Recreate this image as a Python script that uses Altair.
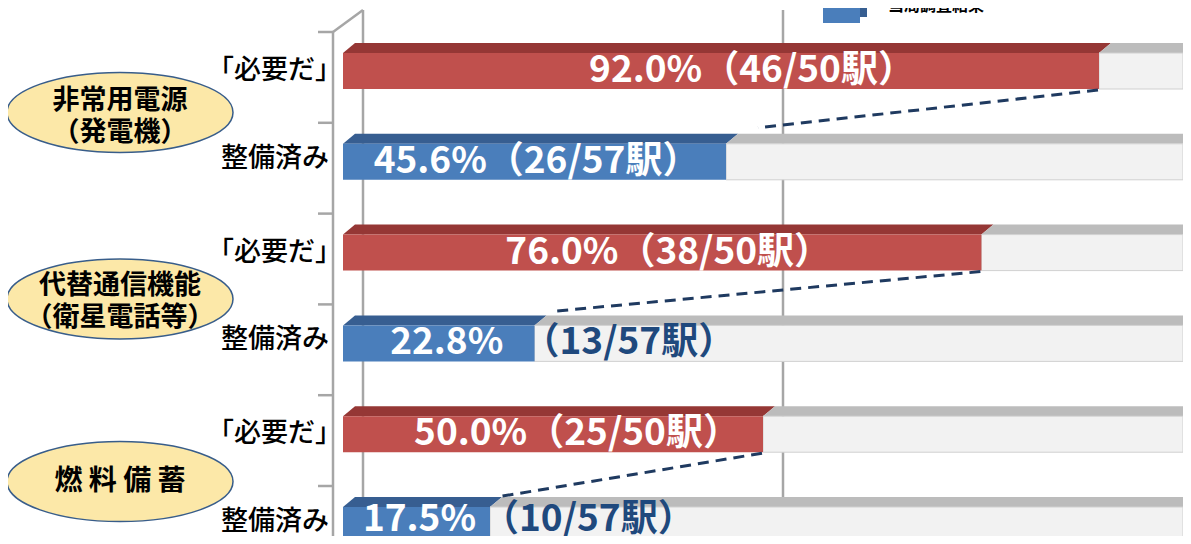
import altair as alt
import pandas as pd

# ---------------- data ----------------
group_names = ["非常用電源\n（発電機）", "代替通信機能\n（衛星電話等）", "燃 料 備 蓄"]
row_labels = ["「必要だ」", "整備済み", "「必要だ」", "整備済み", "「必要だ」", "整備済み"]
row_series = ["必要だ", "当局調査結果", "必要だ", "当局調査結果", "必要だ", "当局調査結果"]
bar_values = [90.0, 45.6, 76.0, 22.8, 50.0, 17.5]
pct_labels = ["92.0%", "45.6%", "76.0%", "22.8%", "50.0%", "17.5%"]
count_labels = ["（46/50駅）", "（26/57駅）", "（38/50駅）", "（13/57駅）", "（25/50駅）", "（10/57駅）"]
count_inside = [True, True, True, False, True, False]
grid_values = [0, 50]
full_value = 100
legend_label = "当局調査結果"

# ---------------- layout / style ----------------
W, H = 1175, 528
X0, PXPCT = 335, 8.4        # pixel of 0 %, pixels per percent
Y0, ROWPX = 63, 90.8        # pixel of first row centre, pixels per row
BAR = 36
DEPTH_X, DEPTH_Y = 12, 10
RED, RED_TOP = "#c0504d", "#953735"
BLUE, BLUE_TOP = "#4a7ebb", "#375e91"
GRAY_FRONT, GRAY_TOP, GRAY_SIDE, GRAY_EDGE = "#f2f2f2", "#bcbcbc", "#a5a5a5", "#d0d0d0"
AXIS = "#a6a6a6"
NAVY = "#1f3a60"
DARKBLUE_TXT = "#1f497d"
FONT = "Noto Sans CJK JP"
FRONT = {"必要だ": RED, "当局調査結果": BLUE}
TOP = {"必要だ": RED_TOP, "当局調査結果": BLUE_TOP}
label_dx = [31, 2, 6, 8, 24, 3]
label_dy = [0, 0, 0, 0, 0, -5]
count_dx = [0, 0, 0, -12, 0, -8]
conn_off = [(32, -34), (18, -32), (7, -28)]
ellipse_dy = [-4, 1, 2]
group_text_dy = [-15, -12, 2]

xs = alt.Scale(domain=[-X0 / PXPCT, (W - X0) / PXPCT], nice=False, zero=False, padding=0)
ys = alt.Scale(domain=[-Y0 / ROWPX, (H - Y0) / ROWPX], nice=False, zero=False, reverse=True, padding=0)


def X(f):
    return alt.X(f, type="quantitative", scale=xs, axis=None)


def Y(f):
    return alt.Y(f, type="quantitative", scale=ys, axis=None, stack=None)


rows = pd.DataFrame({
    "row": list(range(len(bar_values))),
    "label": row_labels,
    "series": row_series,
    "v": bar_values,
    "pct": pct_labels,
    "count": count_labels,
    "inside": count_inside,
})
rows["zero"] = 0
rows["full"] = full_value
rows["mid"] = rows["v"] / 2
rows["color"] = rows["series"].map(FRONT)
rows["full_label"] = rows["pct"] + rows["count"]

# 3-D faces as polygons (top faces and the right-hand end face)
dxp = DEPTH_X / PXPCT
half = (BAR / 2) / ROWPX
dpy = DEPTH_Y / ROWPX
poly = []
for _, r in rows.iterrows():
    ri = int(r["row"])
    yb = ri - half
    yt = yb - dpy
    for face, a, b in [(r["series"], 0, r["v"]), ("gray", r["v"], full_value)]:
        pid = f"{ri}-{face}"
        pts = [(a, yb, yb), (a + dxp, yt, yb), (b, yt, yb), (b + dxp, yt, yt)]
        for x, y1, y2 in pts:
            poly.append(dict(pid=pid, face=face, x=x, y=y1, y2=y2))
    ybot = ri + half
    pid = f"{ri}-side"
    poly.append(dict(pid=pid, face="side", x=full_value, y=yb, y2=ybot))
    poly.append(dict(pid=pid, face="side", x=full_value + dxp, y=yt, y2=ybot - dpy))
polydf = pd.DataFrame(poly)
face_color = {"必要だ": RED_TOP, "当局調査結果": BLUE_TOP, "gray": GRAY_TOP, "side": GRAY_SIDE}

layers = []

# back wall gridlines
layers.append(alt.Chart(pd.DataFrame({"g": grid_values})).mark_rule(
    xOffset=20, color=AXIS, strokeWidth=2.5
).encode(x=X("g"), y=alt.value(2), y2=alt.value(H)))

# left axis (3-D wall edge) and ticks
one = pd.DataFrame({"a": [0]})
layers.append(alt.Chart(one).mark_rule(color=AXIS, strokeWidth=2.5).encode(
    x=alt.value(325), y=alt.value(24), y2=alt.value(H)))
layers.append(alt.Chart(one).mark_rule(color=AXIS, strokeWidth=2.5).encode(
    x=alt.value(325), x2=alt.value(355), y=alt.value(24), y2=alt.value(2)))
layers.append(alt.Chart(rows).mark_rule(color=AXIS, strokeWidth=2.5, yOffset=-39).encode(
    y=Y("row"), x=alt.value(310), x2=alt.value(325)))

# 3-D faces
for face, col in face_color.items():
    sub = polydf[polydf["face"] == face]
    layers.append(alt.Chart(sub).mark_area(interpolate="linear", color=col).encode(
        x=X("x"), y=Y("y"), y2=alt.Y2("y2"), detail="pid:N"))

# front faces
layers.append(alt.Chart(rows).mark_bar(size=BAR, fill=GRAY_FRONT, stroke=GRAY_EDGE, strokeWidth=1).encode(
    x=X("v"), x2="full", y=Y("row")))
layers.append(alt.Chart(rows).mark_bar(size=BAR).encode(
    x=X("zero"), x2="v", y=Y("row"), fill=alt.Fill("color:N", scale=None)))

# dashed connectors
for j, i in enumerate(range(0, len(bar_values), 2)):
    cdf = pd.DataFrame({"x": [bar_values[i]], "x2": [bar_values[i + 1]], "y": [i], "y2": [i + 1]})
    ox, oy = conn_off[j]
    layers.append(alt.Chart(cdf).mark_rule(
        color=NAVY, strokeWidth=3, strokeDash=[11, 7], xOffset=-1, yOffset=19,
        x2Offset=ox, y2Offset=oy
    ).encode(x=X("x"), x2="x2", y=Y("y"), y2="y2"))

# value labels
for i in range(len(bar_values)):
    sub = rows[rows["row"] == i]
    if count_inside[i]:
        layers.append(alt.Chart(sub).mark_text(
            font=FONT, fontSize=37, fontWeight="bold", color="white", align="center",
            baseline="middle", dx=label_dx[i], dy=label_dy[i]
        ).encode(x=X("mid"), y=Y("row"), text="full_label:N"))
    else:
        layers.append(alt.Chart(sub).mark_text(
            font=FONT, fontSize=37, fontWeight="bold", color="white", align="center",
            baseline="middle", dx=label_dx[i], dy=label_dy[i]
        ).encode(x=X("mid"), y=Y("row"), text="pct:N"))
        layers.append(alt.Chart(sub).mark_text(
            font=FONT, fontSize=37, fontWeight="bold", color=DARKBLUE_TXT, align="left",
            baseline="middle", dx=count_dx[i], dy=label_dy[i]
        ).encode(x=X("v"), y=Y("row"), text="count:N"))

# row labels
need = rows[rows["series"] == "必要だ"]
done = rows[rows["series"] != "必要だ"]
layers.append(alt.Chart(need).mark_text(
    font=FONT, fontSize=27, fontWeight=500, color="black", align="right", baseline="middle", dx=13
).encode(x=alt.value(321), y=Y("row"), text="label:N"))
layers.append(alt.Chart(done).mark_text(
    font=FONT, fontSize=27, fontWeight=500, color="black", align="right", baseline="middle", dy=-3
).encode(x=alt.value(321), y=Y("row"), text="label:N"))

# group ellipses
ELLIPSE = ("M -1 0 C -1 -0.1955 -0.5523 -0.354 0 -0.354 C 0.5523 -0.354 1 -0.1955 1 0 "
           "C 1 0.1955 0.5523 0.354 0 0.354 C -0.5523 0.354 -1 0.1955 -1 0 Z")
groups = pd.DataFrame({"name": group_names, "y": [2 * k + 0.5 for k in range(len(group_names))]})
for k in range(len(group_names)):
    g = groups.iloc[k:k + 1]
    layers.append(alt.Chart(g).mark_point(
        shape=ELLIPSE, size=226 ** 2, filled=True, fill="#fce8a8", stroke="#385d8a",
        strokeWidth=1.5, opacity=1, yOffset=ellipse_dy[k]
    ).encode(x=alt.value(112), y=Y("y")))
    layers.append(alt.Chart(g).mark_text(
        font=FONT, fontSize=27 if "\n" in group_names[k] else 28, fontWeight="bold",
        color="black", align="center", baseline="middle", lineBreak="\n", lineHeight=32,
        dy=group_text_dy[k]
    ).encode(x=alt.value(112), y=Y("y"), text="name:N"))

# legend (only partly visible at the top)
layers.append(alt.Chart(one).mark_rect(color=BLUE).encode(
    x=alt.value(815), x2=alt.value(852), y=alt.value(-20), y2=alt.value(15)))
layers.append(alt.Chart(one).mark_rect(color=BLUE_TOP).encode(
    x=alt.value(852), x2=alt.value(859), y=alt.value(-20), y2=alt.value(9)))
layers.append(alt.Chart(pd.DataFrame({"t": [legend_label]})).mark_text(
    font=FONT, fontSize=16, fontWeight="bold", color="black", align="left", baseline="alphabetic"
).encode(x=alt.value(880), y=alt.value(3), text="t:N"))

chart = alt.layer(*layers).properties(
    width=W, height=H, autosize=alt.AutoSizeParams(type="none"), padding=0
).configure_view(stroke=None)

chart.save("out.html", embed_options={"renderer": "svg", "actions": False})
